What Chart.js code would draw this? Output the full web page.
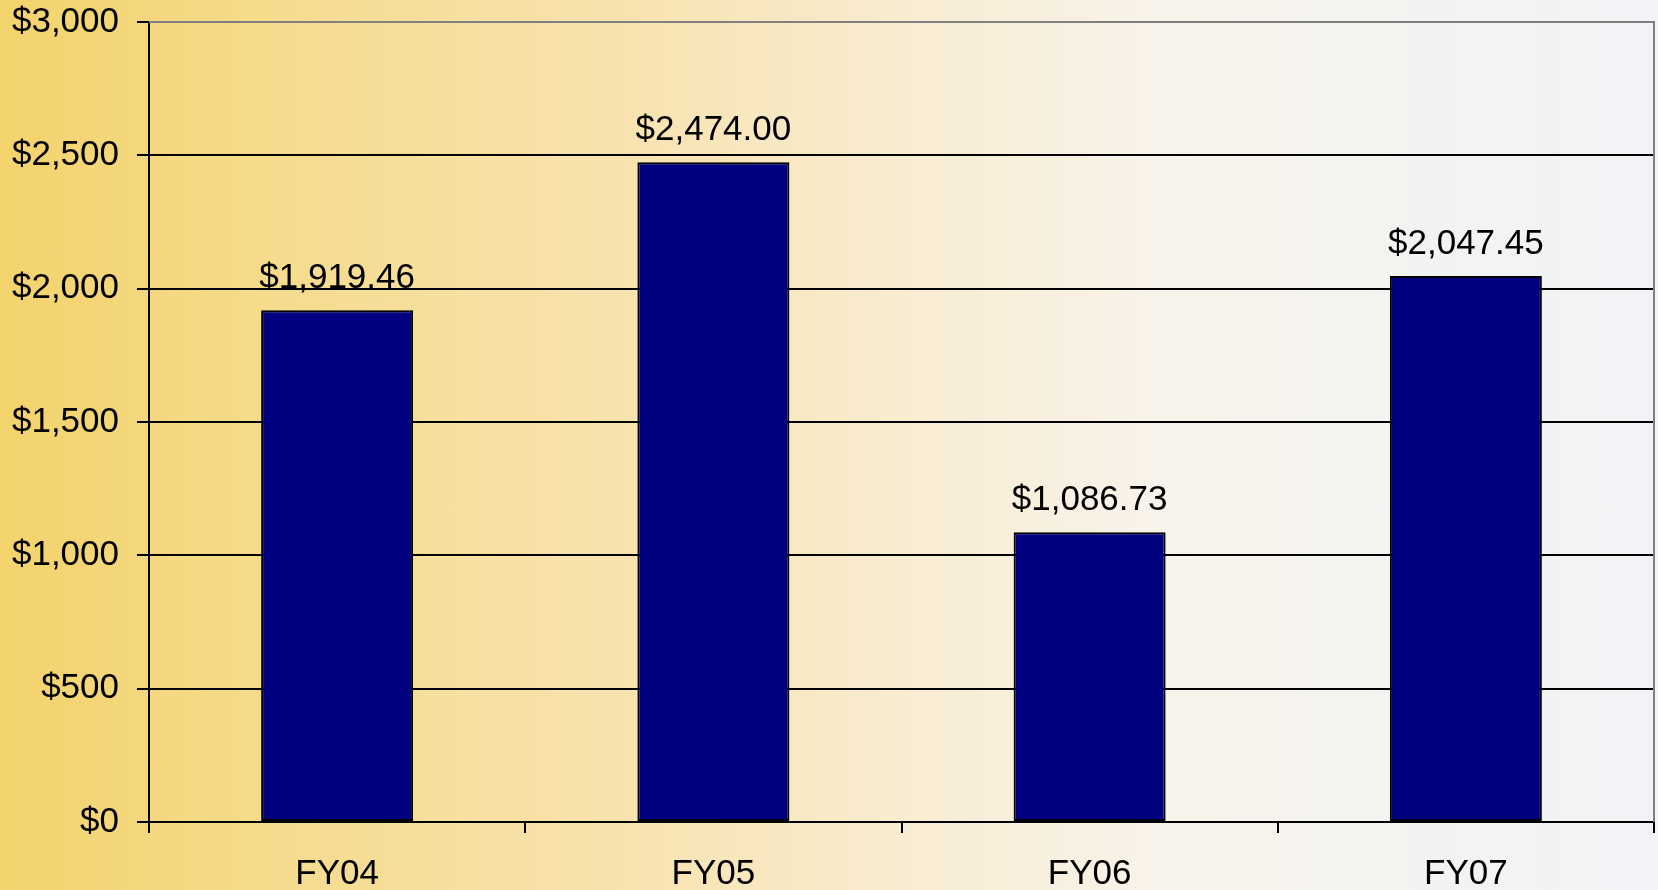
<!DOCTYPE html>
<html>
<head>
<meta charset="utf-8">
<script src="https://cdn.jsdelivr.net/npm/chart.js@4.4.0/dist/chart.umd.min.js"></script>
<style>
  html, body { margin: 0; padding: 0; }
  body {
    width: 1658px; height: 890px; overflow: hidden;
    background: linear-gradient(to right, #f3d36c 0%, #f6dc90 18%, #f8e3b0 38%, #f8ecd2 55%, #f8f3ea 70%, #f3f3f1 85%, #f1f3f6 100%);
  }
  #wrap { position: relative; width: 1658px; height: 890px; }
</style>
</head>
<body>
<div id="wrap"><canvas id="chart" width="1658" height="890"></canvas></div>
<script>
const categories = ["FY04", "FY05", "FY06", "FY07"];
const amounts = [1919.46, 2474.00, 1086.73, 2047.45];
const yTicks = [0, 500, 1000, 1500, 2000, 2500, 3000];

const money0 = (v) => "$" + v.toLocaleString("en-US");
const money2 = (v) =>
  "$" + v.toLocaleString("en-US", { minimumFractionDigits: 2, maximumFractionDigits: 2 });

const FONT = "'Liberation Sans', Arial, sans-serif";

// values above the bars
const barLabels = {
  id: "barLabels",
  afterDatasetsDraw(chart) {
    const ctx = chart.ctx;
    const meta = chart.getDatasetMeta(0);
    ctx.save();
    ctx.font = "35px " + FONT;
    ctx.fillStyle = "#000";
    ctx.textAlign = "center";
    ctx.textBaseline = "bottom";
    meta.data.forEach((bar, i) => {
      ctx.fillText(money2(amounts[i]), bar.x, bar.y - 14);
    });
    ctx.restore();
  },
};

// gray frame on top and right of the plot area
const plotFrame = {
  id: "plotFrame",
  beforeDatasetsDraw(chart) {
    const { ctx, chartArea: a } = chart;
    ctx.save();
    ctx.strokeStyle = "#808080";
    ctx.lineWidth = 2;
    ctx.beginPath();
    ctx.moveTo(a.left, a.top);
    ctx.lineTo(a.right, a.top);
    ctx.lineTo(a.right, a.bottom);
    ctx.stroke();
    ctx.restore();
  },
};

new Chart(document.getElementById("chart"), {
  type: "bar",
  data: {
    labels: categories,
    datasets: [
      {
        data: amounts,
        backgroundColor: "#000080",
        borderColor: "#000000",
        borderWidth: 2,
        borderSkipped: false,
        categoryPercentage: 1,
        barPercentage: 0.404,
      },
    ],
  },
  options: {
    responsive: false,
    animation: false,
    layout: { padding: { top: 22, right: 4, left: 0, bottom: 0 } },
    plugins: { legend: { display: false }, tooltip: { enabled: false } },
    scales: {
      y: {
        min: 0,
        max: 3000,
        afterFit: (s) => {
          s.width = 149;
          s.paddingTop = 0;
          s.paddingBottom = 0;
        },
        afterBuildTicks: (s) => { s.ticks = yTicks.map((v) => ({ value: v })); },
        ticks: {
          color: "#000",
          padding: 18,
          font: { family: FONT, size: 35 },
          callback: (v) => money0(v),
        },
        grid: {
          color: (c) => (c.tick && c.tick.value === 3000 ? "#808080" : "#000"),
          lineWidth: 2,
          tickLength: 12,
          tickColor: "#000",
        },
        border: { color: "#000", width: 2 },
      },
      x: {
        afterFit: (s) => {
          s.height = 68;
          s.paddingLeft = 0;
          s.paddingRight = 0;
        },
        ticks: {
          color: "#000",
          padding: 20,
          font: { family: FONT, size: 35 },
        },
        grid: {
          offset: true,
          drawOnChartArea: false,
          tickLength: 11,
          tickColor: "#000",
          lineWidth: 2,
        },
        border: { color: "#000", width: 2 },
      },
    },
  },
  plugins: [plotFrame, barLabels],
});
</script>
</body>
</html>
